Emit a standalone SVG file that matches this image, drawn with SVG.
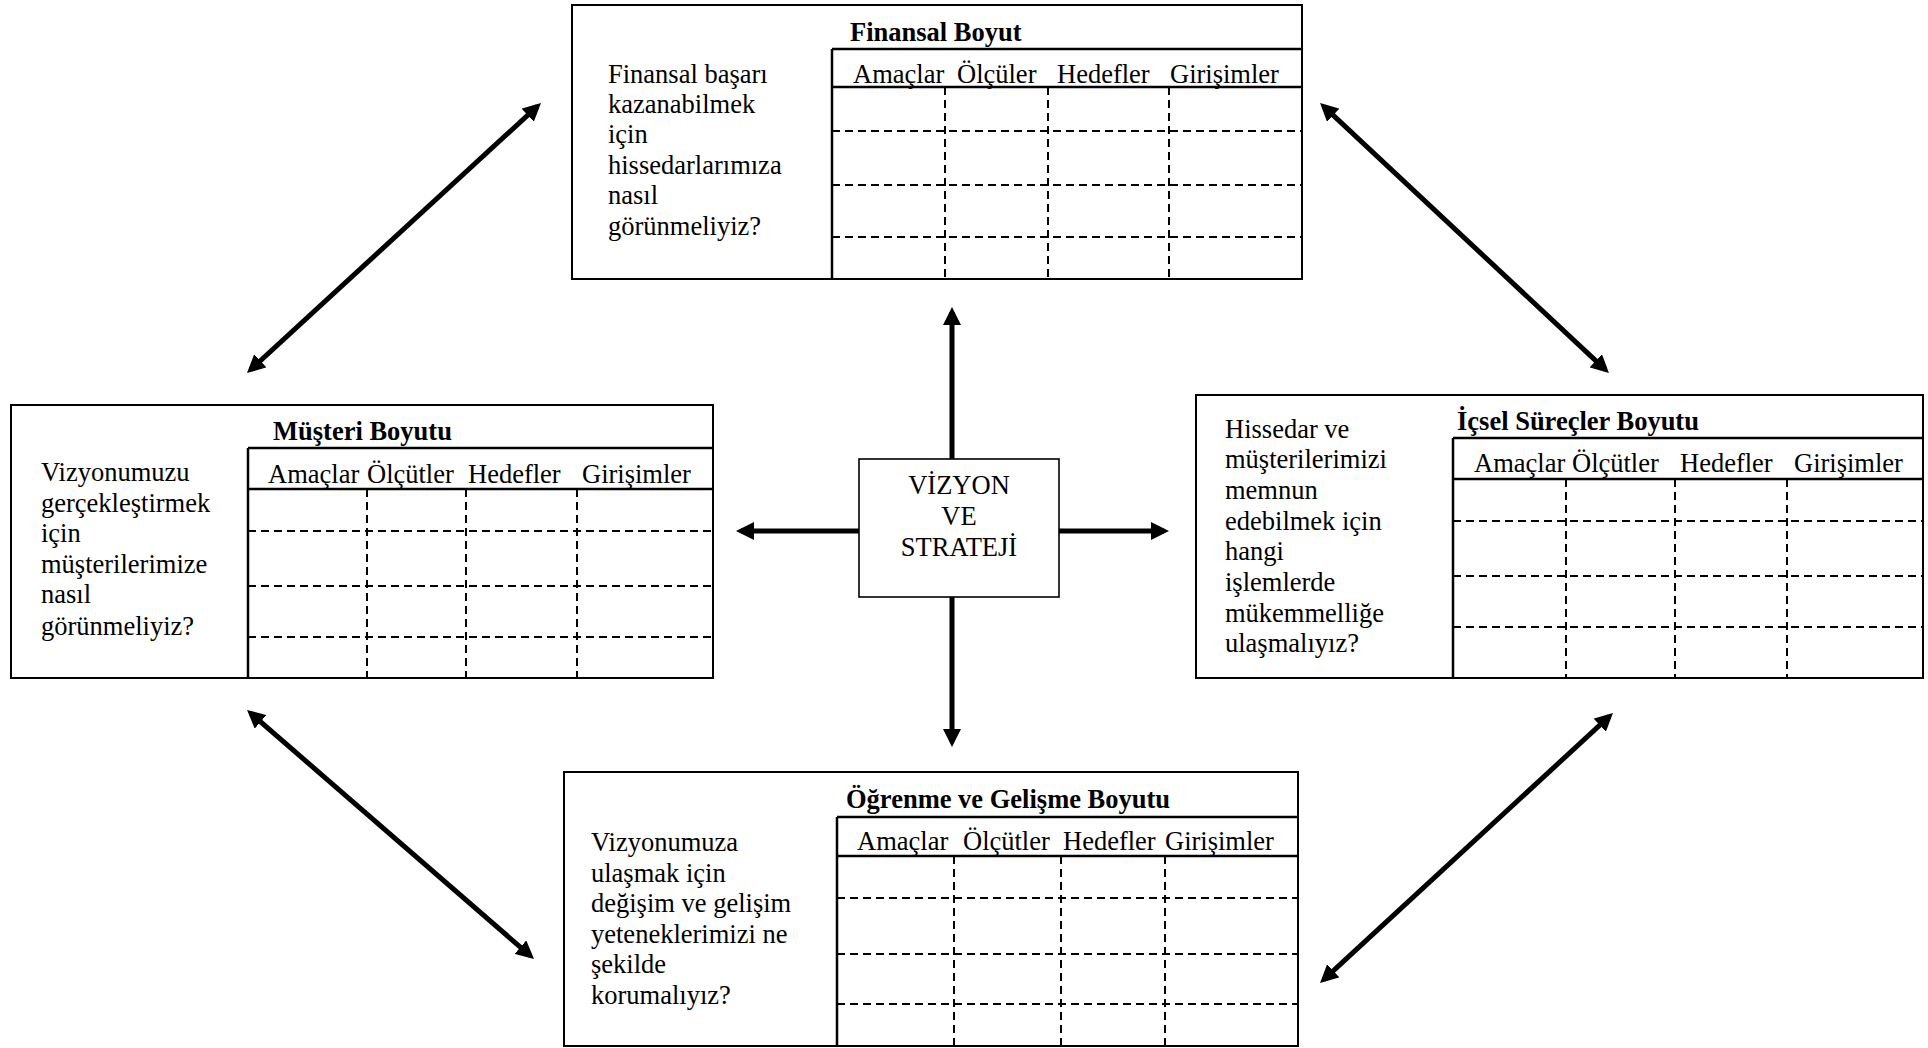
<svg xmlns="http://www.w3.org/2000/svg" width="1928" height="1048" viewBox="0 0 1928 1048">
  <style>
    text { font-family: "Liberation Serif", "Times New Roman", serif; font-size: 26.5px; fill: #000; }
    .title { font-weight: bold; }
    .mid { text-anchor: middle; }
    .box { fill: #fff; stroke: #000; stroke-width: 2; }
    .solid { stroke: #000; stroke-width: 2.5; fill: none; }
    .dash { stroke: #000; stroke-width: 2; stroke-dasharray: 8 5; fill: none; }
    .arrow { stroke: #000; stroke-width: 5; fill: none; marker-start: url(#head); marker-end: url(#head); }
    .arrow1 { stroke: #000; stroke-width: 5; fill: none; marker-end: url(#head); }
  </style>
  <defs>
    <marker id="head" markerUnits="userSpaceOnUse" markerWidth="18" markerHeight="18" refX="13" refY="9" orient="auto-start-reverse">
      <path d="M0,0 L18,9 L0,18 z" fill="#000"/>
    </marker>
  </defs>

  <rect width="1928" height="1048" fill="#fff"/>

  <!-- Financial perspective -->
  <g id="finansal">
    <rect class="box" x="572" y="5" width="730" height="274"/>
    <path class="solid" d="M832,49 H1302 M832,49 V279 M832,87 H1302"/>
    <path class="dash" d="M832,131 H1302 M832,185 H1302 M832,237 H1302 M945,87 V279 M1048,87 V279 M1169,87 V279"/>
    <text class="title" x="850" y="41">Finansal Boyut</text>
    <text x="853" y="83">Amaçlar</text>
    <text x="957" y="83">Ölçüler</text>
    <text x="1057" y="83">Hedefler</text>
    <text x="1170" y="83">Girişimler</text>
    <text x="608" y="83">Finansal başarı</text>
    <text x="608" y="113">kazanabilmek</text>
    <text x="608" y="143">için</text>
    <text x="608" y="174">hissedarlarımıza</text>
    <text x="608" y="204">nasıl</text>
    <text x="608" y="235">görünmeliyiz?</text>
  </g>

  <!-- Customer perspective -->
  <g id="musteri">
    <rect class="box" x="11" y="405" width="702" height="273"/>
    <path class="solid" d="M248,448 H713 M248,448 V678 M248,489 H713"/>
    <path class="dash" d="M248,531 H713 M248,586 H713 M248,637 H713 M367,489 V678 M466,489 V678 M577,489 V678"/>
    <text class="title" x="273" y="440">Müşteri Boyutu</text>
    <text x="268" y="483">Amaçlar</text>
    <text x="367" y="483">Ölçütler</text>
    <text x="468" y="483">Hedefler</text>
    <text x="582" y="483">Girişimler</text>
    <text x="41" y="481">Vizyonumuzu</text>
    <text x="41" y="512">gerçekleştirmek</text>
    <text x="41" y="542">için</text>
    <text x="41" y="573">müşterilerimize</text>
    <text x="41" y="603">nasıl</text>
    <text x="41" y="635">görünmeliyiz?</text>
  </g>

  <!-- Internal process perspective -->
  <g id="icsel">
    <rect class="box" x="1196" y="395" width="727" height="283"/>
    <path class="solid" d="M1453,438 H1923 M1453,438 V678 M1453,479 H1923"/>
    <path class="dash" d="M1453,521 H1923 M1453,576 H1923 M1453,627 H1923 M1566,479 V678 M1675,479 V678 M1787,479 V678"/>
    <text class="title" x="1457" y="430">İçsel Süreçler Boyutu</text>
    <text x="1474" y="472">Amaçlar</text>
    <text x="1572" y="472">Ölçütler</text>
    <text x="1680" y="472">Hedefler</text>
    <text x="1794" y="472">Girişimler</text>
    <text x="1225" y="438">Hissedar ve</text>
    <text x="1225" y="468">müşterilerimizi</text>
    <text x="1225" y="499">memnun</text>
    <text x="1225" y="530">edebilmek için</text>
    <text x="1225" y="560">hangi</text>
    <text x="1225" y="591">işlemlerde</text>
    <text x="1225" y="622">mükemmelliğe</text>
    <text x="1225" y="652">ulaşmalıyız?</text>
  </g>

  <!-- Learning and growth perspective -->
  <g id="ogrenme">
    <rect class="box" x="564" y="772" width="734" height="274"/>
    <path class="solid" d="M837,817 H1298 M837,817 V1046 M837,856 H1298"/>
    <path class="dash" d="M837,898 H1298 M837,954 H1298 M837,1004 H1298 M954,856 V1046 M1061,856 V1046 M1165,856 V1046"/>
    <text class="title" x="846" y="808">Öğrenme ve Gelişme Boyutu</text>
    <text x="857" y="850">Amaçlar</text>
    <text x="963" y="850">Ölçütler</text>
    <text x="1063" y="850">Hedefler</text>
    <text x="1165" y="850">Girişimler</text>
    <text x="591" y="851">Vizyonumuza</text>
    <text x="591" y="882">ulaşmak için</text>
    <text x="591" y="912">değişim ve gelişim</text>
    <text x="591" y="943">yeteneklerimizi ne</text>
    <text x="591" y="973">şekilde</text>
    <text x="591" y="1004">korumalıyız?</text>
  </g>

  <!-- Arrows between the perspectives and the centre -->
  <g id="connectors">
    <line class="arrow1" x1="952" y1="459" x2="952" y2="312"/>
    <line class="arrow1" x1="952" y1="597" x2="952" y2="742"/>
    <line class="arrow1" x1="1059" y1="531" x2="1164" y2="531"/>
    <line class="arrow1" x1="859" y1="531" x2="741" y2="531"/>
    <line class="arrow" x1="250.7" y1="369.6" x2="537.3" y2="106.4"/>
    <line class="arrow" x1="1323.7" y1="106.4" x2="1605.3" y2="369.6"/>
    <line class="arrow" x1="250.8" y1="713.3" x2="530.2" y2="955.7"/>
    <line class="arrow" x1="1609.3" y1="716.4" x2="1323.7" y2="979.6"/>
  </g>

  <!-- Vision and strategy -->
  <g id="vizyon">
    <rect x="859" y="459" width="200" height="138" fill="#fff" stroke="#000" stroke-width="1.6"/>
    <text class="mid" x="959" y="494">VİZYON</text>
    <text class="mid" x="959" y="525">VE</text>
    <text class="mid" x="959" y="556">STRATEJİ</text>
  </g>
</svg>
